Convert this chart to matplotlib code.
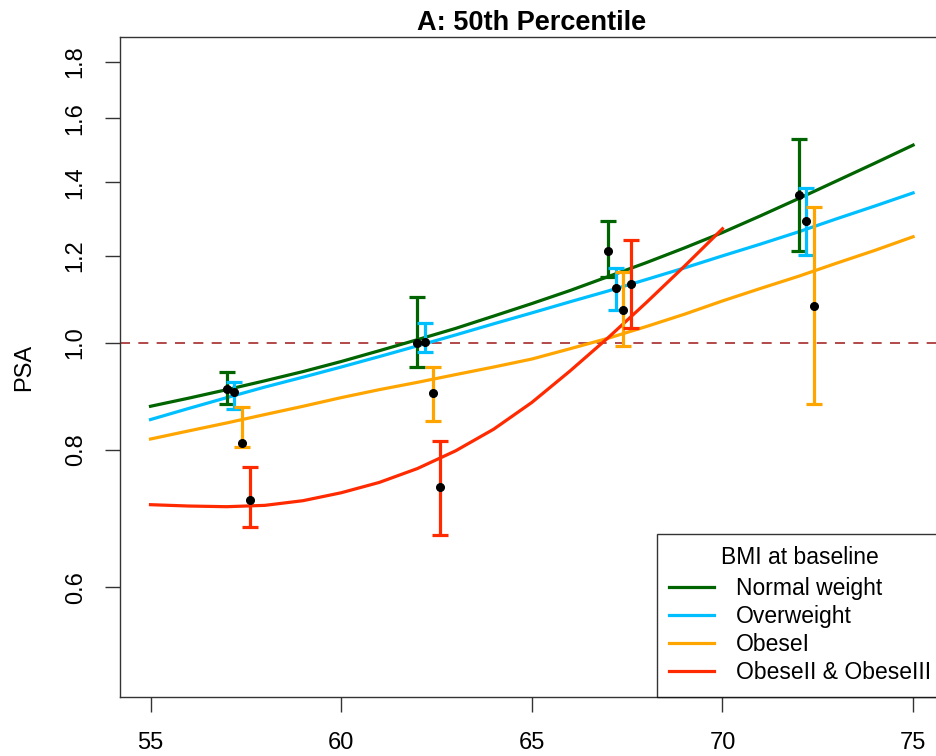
import numpy as np
import matplotlib
matplotlib.use("Agg")
import matplotlib.pyplot as plt
from matplotlib.lines import Line2D

plt.rcParams['font.family'] = ['Liberation Sans', 'DejaVu Sans']

## fitted curves (age grid, PSA values)
age = [55, 56, 57, 58, 59, 60, 61, 62, 63, 64, 65, 66, 67, 68, 69, 70, 71, 72, 73, 74, 75]
normal_fit = [0.876, 0.891, 0.907, 0.924, 0.942, 0.962, 0.984, 1.007, 1.031, 1.058, 1.086,
              1.116, 1.149, 1.183, 1.220, 1.260, 1.305, 1.353, 1.404, 1.457, 1.513]
over_fit = [0.852, 0.872, 0.892, 0.912, 0.931, 0.951, 0.972, 0.994, 1.017, 1.041, 1.065,
            1.090, 1.115, 1.142, 1.170, 1.200, 1.230, 1.262, 1.297, 1.332, 1.369]
obese1_fit = [0.818, 0.832, 0.846, 0.861, 0.876, 0.892, 0.907, 0.921, 0.936, 0.951, 0.967,
              0.988, 1.010, 1.035, 1.062, 1.092, 1.121, 1.150, 1.182, 1.214, 1.249]
age_red = [55, 56, 57, 58, 59, 60, 61, 62, 63, 64, 65, 66, 67, 68, 69, 70]
obese23_fit = [0.713, 0.711, 0.710, 0.712, 0.719, 0.731, 0.747, 0.769, 0.798, 0.835, 0.883,
               0.943, 1.011, 1.088, 1.174, 1.270]

## observed medians with intervals
normal_x = [57.0, 62.0, 67.0, 72.0]
normal_pt = [0.908, 1.000, 1.212, 1.363]
normal_lo = [0.880, 0.951, 1.148, 1.212]
normal_hi = [0.941, 1.101, 1.292, 1.532]

over_x = [57.2, 62.2, 67.2, 72.2]
over_pt = [0.903, 1.002, 1.122, 1.291]
over_lo = [0.871, 0.981, 1.071, 1.202]
over_hi = [0.922, 1.043, 1.170, 1.383]

obese1_x = [57.4, 62.4, 67.4, 72.4]
obese1_pt = [0.811, 0.901, 1.071, 1.080]
obese1_lo = [0.804, 0.849, 0.994, 0.880]
obese1_hi = [0.875, 0.951, 1.160, 1.329]

obese23_x = [57.6, 62.6, 67.6]
obese23_pt = [0.720, 0.740, 1.131]
obese23_lo = [0.681, 0.669, 1.032]
obese23_hi = [0.772, 0.815, 1.240]

labels = ['Normal weight', 'Overweight', 'ObeseI', 'ObeseII & ObeseIII']
colors = ['#006400', '#00bfff', '#ffa500', '#ff2a00']

fig = plt.figure(figsize=(9.36, 7.56), dpi=100)
ax = fig.add_axes([120/936, 59/756, 823.6/936, 660/756])

ax.axhline(1.0, color='#a52a2a', lw=1.2, ls=(0, (6, 5)), zorder=1)

fits = [(age, normal_fit), (age, over_fit), (age, obese1_fit), (age_red, obese23_fit)]
for (xx, yy), c in zip(fits, colors):
    ax.plot(xx, yy, color=c, lw=2.3, zorder=2, solid_joinstyle='round')

groups = [(normal_x, normal_pt, normal_lo, normal_hi),
          (over_x, over_pt, over_lo, over_hi),
          (obese1_x, obese1_pt, obese1_lo, obese1_hi),
          (obese23_x, obese23_pt, obese23_lo, obese23_hi)]
for (gx, gp, glo, ghi), c in zip(groups, colors):
    gp = np.array(gp)
    err = [gp - np.array(glo), np.array(ghi) - gp]
    ax.errorbar(gx, gp, yerr=err, fmt='none', ecolor=c, elinewidth=2.3,
                capsize=5.5, capthick=2.3, zorder=3)
    ax.plot(gx, gp, 'o', color='black', ms=5.5, zorder=4)

ax.set_yscale('log')
ax.set_xlim(54.2, 75.8)
ax.set_ylim(0.4768, 1.897)
ax.set_xticks([55, 60, 65, 70, 75])
yt = [0.6, 0.8, 1.0, 1.2, 1.4, 1.6, 1.8]
ax.set_yticks(yt)
ax.set_yticklabels(['%.1f' % v for v in yt], rotation=90, va='center')
ax.yaxis.set_minor_locator(matplotlib.ticker.NullLocator())
ax.tick_params(axis='both', labelsize=17, length=11, width=1, color='#333333')
ax.tick_params(axis='x', pad=14)
ax.tick_params(axis='y', pad=13)
for s in ax.spines.values():
    s.set_color('#333333')
    s.set_linewidth(1)

ax.set_ylabel('PSA', fontsize=17, labelpad=21)
ax.set_title('A: 50th Percentile', fontsize=19.5, fontweight='bold', pad=5)

handles = [Line2D([0], [0], color=c, lw=2.3) for c in colors]
leg = ax.legend(handles, labels, title='BMI at baseline', loc='lower right',
                fontsize=16.5, title_fontsize=16.5, frameon=True, fancybox=False,
                borderaxespad=0, handlelength=1.95, handletextpad=0.95,
                labelspacing=0.22, borderpad=0.55)
leg._legend_box.sep = 0.35 * 16.5
leg.get_frame().set_edgecolor('black')
leg.get_frame().set_linewidth(1)

fig.savefig('out.png', dpi=100)
